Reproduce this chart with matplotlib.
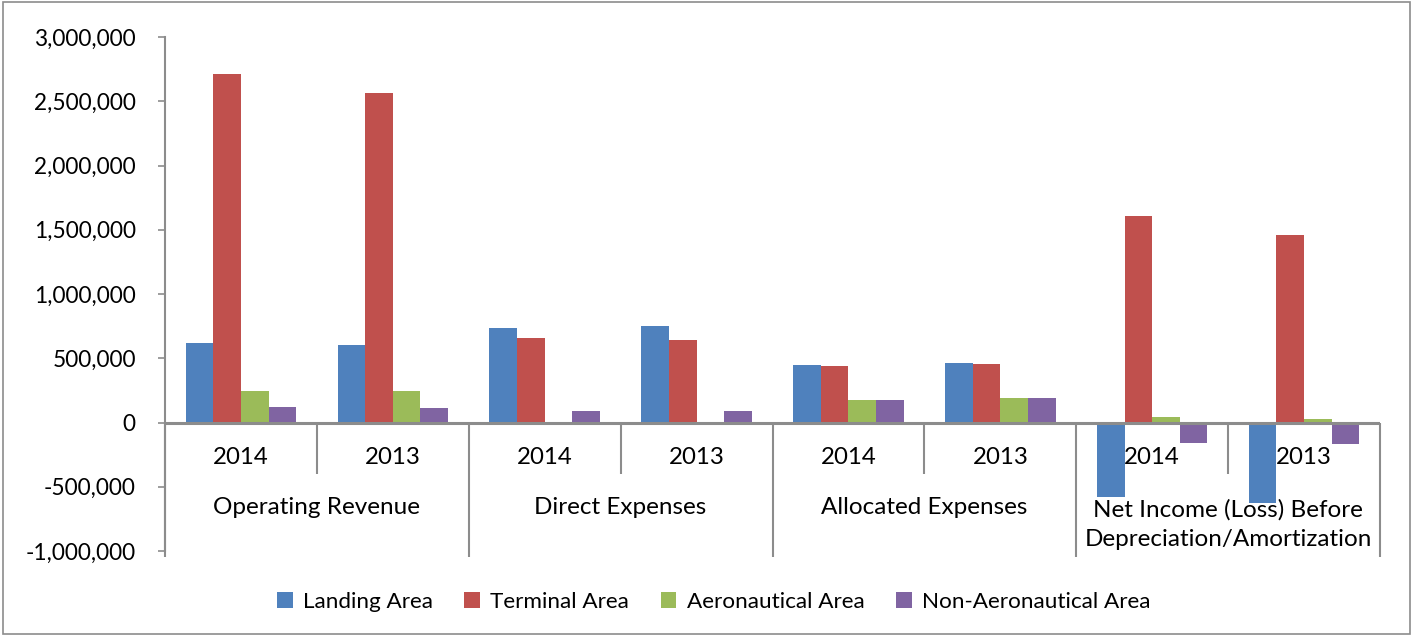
import numpy as np
import matplotlib.pyplot as plt
from matplotlib.patches import Rectangle
from matplotlib.ticker import FuncFormatter

plt.rcParams['font.family'] = ['Lato', 'DejaVu Sans']

# ── Data ──────────────────────────────────────────────────────────────────────
groups = ['Operating Revenue', 'Direct Expenses', 'Allocated Expenses',
          'Net Income (Loss) Before\nDepreciation/Amortization']
years = ['2014', '2013']
series = ['Landing Area', 'Terminal Area', 'Aeronautical Area', 'Non-Aeronautical Area']
colors = ['#4F81BD', '#C0504D', '#9BBB59', '#8064A2']

landing = [616000, 603000, 735000, 751000, 444000, 460000, -577000, -623000]
terminal = [2715000, 2565000, 657000, 639000, 442000, 452000, 1605000, 1457000]
aeronautical = [242000, 242000, 5000, 5000, 177000, 187000, 39000, 29000]
non_aeronautical = [117000, 114000, 86000, 86000, 178000, 187000, -158000, -171000]
values = [landing, terminal, aeronautical, non_aeronautical]

# ── Figure ────────────────────────────────────────────────────────────────────
fig = plt.figure(figsize=(14.13, 6.36), dpi=100)
fig.patches.append(Rectangle((0.002, 0.003), 0.996, 0.994, transform=fig.transFigure,
                             fill=False, edgecolor='#8c8c8c', linewidth=1.2))
ax = fig.add_axes([165/1413, 85/636, 1215/1413, 514/636])

n_cat = len(landing)
x = np.arange(n_cat)
w = 1 / 5.5
for i, (vals, c, name) in enumerate(zip(values, colors, series)):
    ax.bar(x + (i - 1.5) * w, vals, w, color=c, label=name, linewidth=0)

ax.set_xlim(-0.5, n_cat - 0.5)
ax.set_ylim(-1000000, 3000000)
ax.set_yticks(np.arange(-1000000, 3000001, 500000))
ax.yaxis.set_major_formatter(FuncFormatter(lambda v, p: f'{int(v):,}'))
ax.tick_params(axis='y', labelsize=16.3, length=5, width=1.2, color='#8c8c8c', pad=16)
ax.set_xticks([])
for s in ['top', 'right', 'bottom']:
    ax.spines[s].set_visible(False)
ax.spines['left'].set_color('#8c8c8c')
ax.spines['left'].set_linewidth(1.5)

# category axis at zero
ax.axhline(0, color='#8c8c8c', linewidth=2.2, zorder=3)
for k in range(n_cat + 1):
    xb = k - 0.5
    bottom = -1050000 if k % 2 == 0 else -400000
    ax.vlines(xb, bottom, 0, color='#8c8c8c', linewidth=1.5, clip_on=False, zorder=3)

for k in range(n_cat):
    ax.text(k, -273000, years[k % 2], ha='center', va='center', fontsize=17.3, zorder=4)
for g, name in enumerate(groups):
    ax.text(2 * g + 0.5, -662000 if '\n' not in name else -792000, name,
            ha='center', va='center', fontsize=17.5, linespacing=1.5, zorder=4)

fig.legend(loc='center', bbox_to_anchor=(0.505, 1 - 602/636), ncol=4, frameon=False,
           fontsize=16.2, handlelength=0.7, handleheight=0.7, handletextpad=0.45,
           columnspacing=1.4)

plt.savefig('out.png', dpi=100)
